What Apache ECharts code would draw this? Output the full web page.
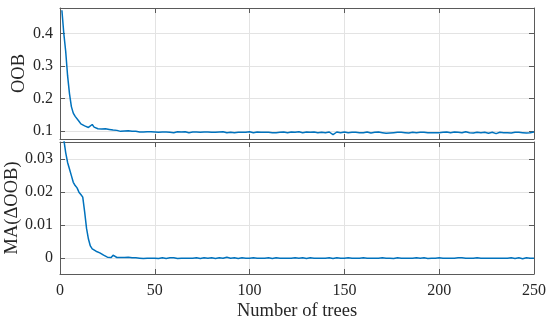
<!DOCTYPE html>
<html><head><meta charset="utf-8">
<script src="https://cdn.jsdelivr.net/npm/echarts@6/dist/echarts.min.js"></script>
<style>html,body{margin:0;padding:0;background:#fff}#c{width:550px;height:325px}</style>
</head><body><div id="c"></div>
<script>
const xTicks = [0, 50, 100, 150, 200, 250];
const oobTicks = [0.1, 0.2, 0.3, 0.4];
const maTicks = [0, 0.01, 0.02, 0.03];

const oob = [
0.471,0.400,0.345,0.270,0.215,0.175,0.155,0.145,0.142,0.130,
0.122,0.118,0.116,0.113,0.111,0.114,0.120,0.112,0.108,0.107,
0.104,0.106,0.103,0.107,0.104,0.105,0.103,0.103,0.102,0.102,
0.101,0.099,0.102,0.100,0.099,0.101,0.099,0.099,0.100,0.099,
0.098,0.097,0.099,0.097,0.096,0.098,0.097,0.098,0.096,0.097,
0.097,0.096,0.098,0.097,0.096,0.097,0.098,0.096,0.097,0.095,
0.097,0.098,0.096,0.097,0.096,0.098,0.097,0.095,0.096,0.097,
0.096,0.097,0.098,0.096,0.095,0.097,0.096,0.097,0.095,0.096,
0.097,0.096,0.095,0.097,0.096,0.098,0.096,0.095,0.097,0.096,
0.096,0.095,0.097,0.096,0.098,0.096,0.095,0.096,0.097,0.098,
0.096,0.095,0.096,0.097,0.095,0.096,0.097,0.096,0.094,0.096,
0.097,0.095,0.096,0.095,0.097,0.096,0.095,0.097,0.096,0.095,
0.096,0.097,0.095,0.096,0.097,0.098,0.096,0.095,0.096,0.097,
0.098,0.096,0.095,0.097,0.096,0.095,0.097,0.096,0.097,0.095,
0.096,0.097,0.093,0.089,0.095,0.097,0.096,0.095,0.096,0.097,
0.096,0.095,0.094,0.096,0.095,0.096,0.097,0.095,0.096,0.095,
0.096,0.097,0.095,0.094,0.095,0.096,0.095,0.097,0.096,0.095,
0.094,0.093,0.095,0.094,0.096,0.095,0.094,0.096,0.095,0.096,
0.097,0.095,0.096,0.094,0.095,0.096,0.097,0.095,0.094,0.096,
0.095,0.096,0.094,0.095,0.096,0.095,0.097,0.095,0.096,0.095,
0.094,0.096,0.095,0.097,0.096,0.095,0.096,0.097,0.095,0.096,
0.097,0.095,0.096,0.098,0.096,0.095,0.096,0.094,0.095,0.096,
0.097,0.095,0.094,0.096,0.095,0.093,0.095,0.096,0.094,0.092,
0.095,0.096,0.094,0.095,0.097,0.095,0.096,0.094,0.095,0.096,
0.095,0.096,0.094,0.095,0.096,0.094,0.097,0.095,0.098,0.097
];

const maDelta = [
0.0395,0.0360,0.0320,0.0290,0.0270,0.0250,0.0230,0.0220,0.0213,0.0200,
0.0193,0.0185,0.0140,0.0090,0.0058,0.0037,0.0028,0.0024,0.0021,0.0018,
0.0016,0.0011,0.0009,0.0006,0.0003,0.0006,0.0002,0.0009,0.0006,0.0002,
0.0003,0.0002,0.0003,0.0002,0.0002,0.0003,0.0002,0.0001,0.0002,0.0001,
0.0001,0.0000,0.0001,-0.0001,-0.0002,0.0000,-0.0001,0.0000,0.0001,0.0000,
0.0000,-0.0001,0.0000,0.0001,0.0000,-0.0001,0.0000,0.0001,0.0000,0.0001,
0.0000,-0.0001,0.0000,0.0000,0.0001,0.0000,-0.0001,0.0000,0.0001,0.0000,
0.0000,0.0001,0.0000,-0.0001,0.0000,0.0001,0.0002,0.0000,0.0000,0.0001,
0.0000,-0.0001,0.0000,0.0001,0.0000,0.0000,0.0001,0.0003,0.0001,0.0000,
0.0000,0.0001,0.0000,-0.0001,0.0000,0.0001,0.0000,0.0000,0.0001,0.0000,
0.0000,0.0001,0.0000,0.0000,-0.0001,0.0000,0.0001,0.0000,0.0000,0.0001,
0.0000,-0.0001,0.0000,0.0001,0.0000,0.0000,0.0001,0.0000,-0.0001,0.0000,
0.0001,0.0000,0.0000,0.0001,0.0002,0.0000,0.0000,0.0001,0.0000,-0.0001,
0.0000,0.0001,0.0000,0.0000,0.0001,0.0000,-0.0001,0.0000,0.0001,0.0000,
0.0000,0.0001,0.0000,-0.0001,0.0000,0.0001,0.0000,0.0000,0.0001,0.0000,
0.0000,0.0001,0.0000,0.0000,-0.0001,0.0000,0.0001,0.0000,0.0000,0.0001,
0.0000,0.0000,0.0001,0.0000,-0.0001,0.0000,0.0001,0.0000,0.0000,0.0001,
0.0000,0.0000,0.0001,0.0000,0.0000,-0.0001,0.0000,0.0001,0.0000,0.0000,
0.0001,0.0000,-0.0001,0.0000,0.0001,0.0000,0.0000,0.0001,0.0000,0.0000,
0.0000,0.0001,0.0000,-0.0001,0.0000,0.0000,0.0001,0.0000,0.0000,0.0001,
0.0000,0.0000,0.0001,0.0000,-0.0001,0.0000,0.0001,0.0000,0.0000,0.0001,
0.0000,0.0001,0.0000,0.0000,-0.0001,0.0000,0.0001,0.0000,0.0000,0.0001,
0.0000,0.0000,0.0001,0.0000,-0.0001,0.0000,0.0001,0.0000,-0.0002,0.0000,
0.0001,0.0000,-0.0001,0.0000,0.0001,0.0000,0.0000,0.0001,0.0000,-0.0001,
0.0000,0.0001,0.0000,-0.0002,0.0000,0.0001,0.0000,0.0000,0.0001,0.0000
];

const trees = oob.map((_, i) => i + 1);

const FONT = '"Liberation Serif", "Times New Roman", serif';
const TXT = '#262626';
const BOX = '#5a5a5a';
const GRIDC = '#e3e3e3';
const LINE = '#0072BD';

function xAx(grid, pos, labels) {
  return {
    type: 'value', gridIndex: grid, position: pos, min: 0, max: 250, interval: 50,
    axisLine: { show: true, onZero: false, lineStyle: { color: BOX, width: 1 } },
    axisTick: { show: true, inside: true, length: 5, lineStyle: { color: BOX } },
    axisLabel: { show: labels, color: TXT, fontFamily: FONT, fontSize: 16, margin: 9 },
    splitLine: { show: pos === 'bottom', lineStyle: { color: GRIDC, width: 1 } },
    name: labels ? 'Number of trees' : '', nameLocation: 'middle', nameGap: 28,
    nameMoveOverlap: false,
    nameTextStyle: { color: TXT, fontFamily: FONT, fontSize: 18.5 }
  };
}
function yAx(grid, pos, min, max, ticks, name, gap) {
  const left = pos === 'left';
  return {
    type: 'value', gridIndex: grid, position: pos, min: min, max: max,
    axisLine: { show: true, onZero: false, lineStyle: { color: BOX, width: 1 } },
    axisTick: { show: true, inside: true, length: 5, customValues: ticks, lineStyle: { color: BOX } },
    axisLabel: { show: left, customValues: ticks, color: TXT, fontFamily: FONT, fontSize: 16, margin: 7 },
    splitLine: { show: left, lineStyle: { color: GRIDC, width: 1 } },
    name: left ? name : '', nameLocation: 'middle', nameGap: gap, nameRotate: 90,
    nameMoveOverlap: false,
    nameTextStyle: { color: TXT, fontFamily: FONT, fontSize: 18.5 }
  };
}

const chart = echarts.init(document.getElementById('c'), null, { renderer: 'canvas' });
chart.setOption({
  animation: false,
  backgroundColor: '#fff',
  grid: [
    { left: 60, right: 16, top: 8, height: 131, containLabel: false, outerBoundsMode: 'none' },
    { left: 60, right: 16, top: 142, height: 132, containLabel: false, outerBoundsMode: 'none' }
  ],
  xAxis: [
    xAx(0, 'bottom', false), xAx(0, 'top', false),
    xAx(1, 'bottom', true), xAx(1, 'top', false)
  ],
  yAxis: [
    yAx(0, 'left', 0.0755, 0.478, oobTicks, 'OOB', 31),
    yAx(0, 'right', 0.0755, 0.478, oobTicks, '', 0),
    yAx(1, 'left', -0.0048, 0.0352, maTicks, 'MA(ΔOOB)', 38),
    yAx(1, 'right', -0.0048, 0.0352, maTicks, '', 0)
  ],
  series: [
    { type: 'line', xAxisIndex: 0, yAxisIndex: 0, showSymbol: false, clip: true,
      lineStyle: { color: LINE, width: 1.5 }, data: trees.map((t, i) => [t, oob[i]]) },
    { type: 'line', xAxisIndex: 2, yAxisIndex: 2, showSymbol: false, clip: true,
      lineStyle: { color: LINE, width: 1.5 }, data: trees.map((t, i) => [t, maDelta[i]]) }
  ]
});
</script></body></html>
